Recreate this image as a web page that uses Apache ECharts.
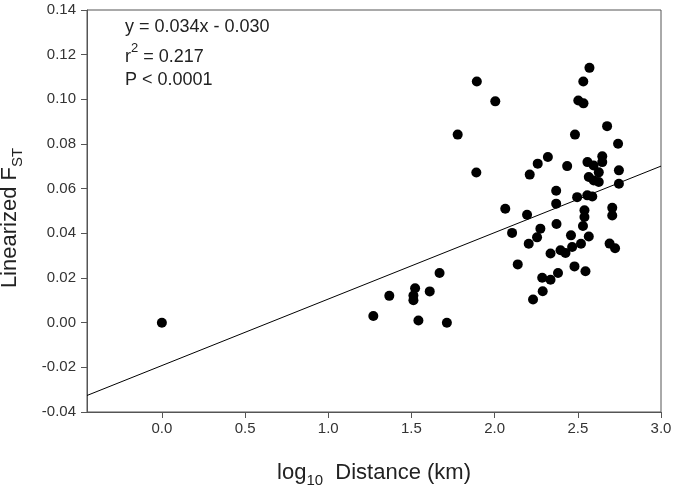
<!DOCTYPE html>
<html>
<head>
<meta charset="utf-8">
<script src="https://cdn.jsdelivr.net/npm/echarts@6/dist/echarts.min.js"></script>
<style>
  html, body { margin: 0; padding: 0; background: #fff; }
  #chart { width: 675px; height: 492px; }
</style>
</head>
<body>
<div id="chart"></div>
<script>
// log10 distance (km) and linearized Fst
const distance = [
  0.000, 1.271, 1.367, 1.522, 1.512, 1.512, 1.542, 1.610, 1.669, 1.713,
  1.778, 1.893, 1.890, 2.004, 2.064, 2.105, 2.139, 2.195, 2.205, 2.211,
  2.231, 2.259, 2.255, 2.275, 2.289, 2.286, 2.320, 2.336, 2.336, 2.370,
  2.370, 2.372, 2.381, 2.396, 2.426, 2.436, 2.459, 2.466, 2.480, 2.483,
  2.496, 2.503, 2.533, 2.534, 2.570, 2.519, 2.540, 2.540, 2.531, 2.546,
  2.557, 2.587, 2.566, 2.558, 2.595, 2.566, 2.596, 2.626, 2.626, 2.647,
  2.647, 2.676, 2.691, 2.724, 2.707, 2.707, 2.742, 2.747, 2.747
]
const fst = [
  0.0000, 0.0030, 0.0120, 0.0154, 0.0122, 0.0100, 0.0010, 0.0140, 0.0222, 0.0000,
  0.0842, 0.1080, 0.0672, 0.0991, 0.0510, 0.0402, 0.0261, 0.0483, 0.0353, 0.0663,
  0.0104, 0.0712, 0.0382, 0.0421, 0.0141, 0.0201, 0.0742, 0.0192, 0.0310, 0.0591,
  0.0533, 0.0442, 0.0222, 0.0324, 0.0312, 0.0701, 0.0391, 0.0339, 0.0252, 0.0842,
  0.0562, 0.0995, 0.1080, 0.0982, 0.1141, 0.0353, 0.0503, 0.0473, 0.0433, 0.0230,
  0.0570, 0.0565, 0.0386, 0.0719, 0.0704, 0.0652, 0.0637, 0.0673, 0.0630, 0.0745,
  0.0719, 0.0880, 0.0354, 0.0333, 0.0514, 0.0480, 0.0801, 0.0682, 0.0622
]

// fitted line as drawn, from the left edge to the right edge
const fitX = [-0.45, 3.0]
const fitY = [-0.0326, 0.0701]

const xTicks = [0.0, 0.5, 1.0, 1.5, 2.0, 2.5, 3.0]

const statLines = ['y = 0.034x - 0.030', '{t|r}{sup|2}{t| = 0.217}', 'P < 0.0001']

const FONT = 'Liberation Sans, Arial, sans-serif'
const AXIS_COLOR = '#555'

const chart = echarts.init(document.getElementById('chart'))

const option = {
  animation: false,
  backgroundColor: '#fff',
  grid: {
    left: 87,
    right: 14,
    top: 10,
    bottom: 80,
    outerBoundsMode: 'none',
    containLabel: false,
    show: true,
    borderColor: AXIS_COLOR,
    borderWidth: 1
  },
  xAxis: {
    type: 'value',
    min: -0.45,
    max: 3.0,
    name: '{n|log}{sub|10}{n|  Distance (km)}',
    nameLocation: 'middle',
    nameGap: 46,
    nameTextStyle: {
      rich: {
        n: { fontFamily: FONT, fontSize: 22, color: '#222', lineHeight: 30, verticalAlign: 'middle' },
        sub: { fontFamily: FONT, fontSize: 15, color: '#222', lineHeight: 30, verticalAlign: 'bottom' }
      }
    },
    splitLine: { show: false },
    axisLine: { onZero: false, lineStyle: { color: AXIS_COLOR, width: 1 } },
    axisTick: {
      show: true,
      customValues: xTicks,
      length: 6,
      lineStyle: { color: AXIS_COLOR }
    },
    axisLabel: {
      customValues: xTicks,
      fontFamily: FONT,
      fontSize: 15,
      color: '#333',
      margin: 9,
      formatter: v => v.toFixed(1)
    }
  },
  yAxis: {
    type: 'value',
    min: -0.04,
    max: 0.14,
    interval: 0.02,
    name: '{n|Linearized F}{sub|ST}',
    nameLocation: 'middle',
    nameRotate: 90,
    nameGap: 62,
    nameTextStyle: {
      padding: [0, 14, 0, 0],
      rich: {
        n: { fontFamily: FONT, fontSize: 22, color: '#222', lineHeight: 30, verticalAlign: 'middle' },
        sub: { fontFamily: FONT, fontSize: 15, color: '#222', lineHeight: 30, verticalAlign: 'bottom' }
      }
    },
    splitLine: { show: false },
    axisLine: { show: true, onZero: false, lineStyle: { color: AXIS_COLOR, width: 1 } },
    axisTick: { show: true, length: 6, lineStyle: { color: AXIS_COLOR } },
    axisLabel: {
      fontFamily: FONT,
      fontSize: 15,
      color: '#333',
      margin: 11,
      formatter: v => v.toFixed(2)
    }
  },
  graphic: statLines.map((txt, i) => ({
    type: 'text',
    left: 125,
    top: [18, 42, 71][i],
    style: {
      text: txt,
      fontFamily: FONT,
      fontSize: 18,
      fill: '#222',
      rich: {
        t: { fontFamily: FONT, fontSize: 18, fill: '#222', lineHeight: 24, verticalAlign: 'bottom' },
        sup: { fontFamily: FONT, fontSize: 13, fill: '#222', lineHeight: 17, verticalAlign: 'top' }
      }
    }
  })),
  series: [
    {
      type: 'line',
      data: fitX.map((x, i) => [x, fitY[i]]),
      showSymbol: false,
      lineStyle: { color: '#000', width: 1 },
      z: 2
    },
    {
      type: 'scatter',
      data: distance.map((x, i) => [x, fst[i]]),
      symbol: 'circle',
      symbolSize: 10,
      itemStyle: { color: '#000', opacity: 1 },
      z: 3
    }
  ]
}

chart.setOption(option)
</script>
</body>
</html>
